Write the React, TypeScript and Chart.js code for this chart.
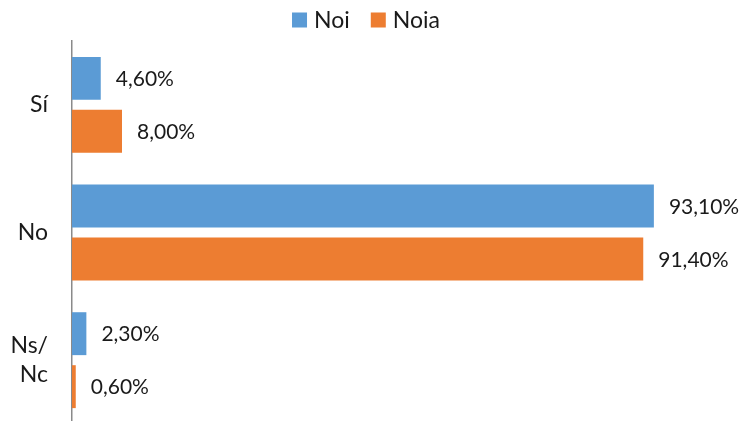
import React, { useEffect, useRef } from "react";
import { Chart, registerables } from "chart.js";

Chart.register(...registerables);

const categories: (string | string[])[] = ["Sí", "No", ["Ns/", "Nc"]];
const seriesNames = ["Noi", "Noia"];
const noiValues = [4.6, 93.1, 2.3];
const noiaValues = [8.0, 91.4, 0.6];
const seriesColors = ["#5B9BD5", "#ED7D31"];

const FONT = "Lato, 'Open Sans', sans-serif";
const TEXT = "#1a1a1a";

const valueLabels = {
  id: "valueLabels",
  afterDatasetsDraw(chart: any) {
    const ctx = chart.ctx;
    ctx.save();
    ctx.font = `21px ${FONT}`;
    ctx.fillStyle = TEXT;
    ctx.textAlign = "left";
    ctx.textBaseline = "middle";
    chart.data.datasets.forEach((ds: any, i: number) => {
      const meta = chart.getDatasetMeta(i);
      meta.data.forEach((el: any, j: number) => {
        const v = ds.data[j] as number;
        const txt = v.toFixed(2).replace(".", ",") + "%";
        ctx.fillText(txt, el.x + 15, el.y + 1);
      });
    });
    ctx.restore();
  },
};

const customLegend = {
  id: "customLegend",
  afterDraw(chart: any) {
    const ctx = chart.ctx;
    ctx.save();
    ctx.font = `23px ${FONT}`;
    ctx.textBaseline = "middle";
    ctx.textAlign = "left";
    const box = 15;
    const gapBoxText = 7;
    const gapItems = 21;
    const items = chart.data.datasets.map((ds: any) => ({
      label: ds.label as string,
      color: ds.backgroundColor as string,
      w: ctx.measureText(ds.label).width,
    }));
    let total = 0;
    items.forEach((it: any, i: number) => {
      total += box + gapBoxText + it.w + (i < items.length - 1 ? gapItems : 0);
    });
    let x = chart.width / 2 - 6 - total / 2;
    const cy = 20;
    items.forEach((it: any) => {
      ctx.fillStyle = it.color;
      ctx.fillRect(x, cy - box / 2, box, box);
      x += box + gapBoxText;
      ctx.fillStyle = TEXT;
      ctx.fillText(it.label, x, cy + 1);
      x += it.w + gapItems;
    });
    ctx.restore();
  },
};

export default function App() {
  const ref = useRef<HTMLCanvasElement>(null);
  useEffect(() => {
    if (!ref.current) return;
    const chart = new Chart(ref.current, {
      type: "bar",
      data: {
        labels: categories,
        datasets: [
          {
            label: seriesNames[0],
            data: noiValues,
            backgroundColor: seriesColors[0],
            categoryPercentage: 0.83,
            barPercentage: 0.81,
          },
          {
            label: seriesNames[1],
            data: noiaValues,
            backgroundColor: seriesColors[1],
            categoryPercentage: 0.83,
            barPercentage: 0.81,
          },
        ],
      },
      options: {
        indexAxis: "y",
        animation: false,
        responsive: false,
        maintainAspectRatio: false,
        layout: { padding: { right: 47, top: 41, bottom: 0, left: 0 } },
        plugins: {
          legend: { display: false },
          tooltip: { enabled: false },
        },
        scales: {
          x: {
            display: false,
            min: 0,
            max: 100,
          },
          y: {
            grid: { display: false, drawTicks: false },
            border: { display: true, color: "#8a8a8a", width: 1.5 },
            ticks: {
              padding: 24,
              color: TEXT,
              font: { family: FONT, size: 23, lineHeight: 1.25 },
            },
            afterFit: (scale: any) => {
              scale.width = 72;
              scale.paddingTop = 0;
              scale.paddingBottom = 0;
            },
          },
        },
      },
      plugins: [valueLabels, customLegend],
    });
    return () => chart.destroy();
  }, []);
  return (
    <div
      style={{
        position: "absolute",
        left: 0,
        top: 0,
        width: 744,
        height: 421,
        overflow: "hidden",
        background: "#fff",
      }}
    >
      <canvas ref={ref} width={744} height={424} style={{ width: 744, height: 424, display: "block" }} />
    </div>
  );
}
